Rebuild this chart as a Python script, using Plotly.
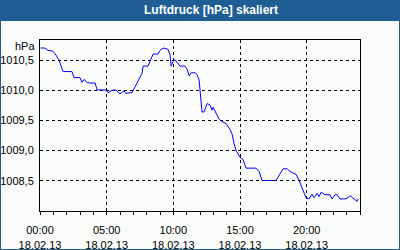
import plotly.graph_objects as go

# ---- data ----
times = ["00:03","00:22","00:36","00:57","01:08","01:25","01:30","01:44","02:24","02:33",
         "03:00","03:09","03:18","03:32","03:45","04:08","04:17","04:57","05:06","05:24",
         "05:42","06:00","06:18","06:27","06:54","07:17","07:39","07:44","08:06","08:29",
         "08:51","09:00","09:14","09:36","09:45","09:50","09:59","10:08","10:21","10:30",
         "10:53","11:02","11:11","11:20","11:38","11:47","11:56","12:00","12:05","12:09",
         "12:18","12:32","12:45","12:54","12:59","13:12","13:26","13:39","13:57","14:15",
         "14:24","14:33","14:42","15:00","15:14","15:27","16:12","16:26","16:39","17:42",
         "18:00","18:14","18:32","18:45","19:03","19:12","19:26","19:44","19:57","20:11",
         "20:24","20:33","20:47","20:56","21:05","21:23","21:45","21:54","22:08","22:17",
         "22:30","22:53","23:06","23:15","23:33","23:47","23:51"]
pressure = [1010.70,1010.70,1010.66,1010.65,1010.605,1010.505,1010.45,1010.31,1010.31,1010.21,
            1010.21,1010.13,1010.18,1010.13,1010.12,1010.12,1010.005,1010.005,1009.96,1010.00,
            1010.005,1009.94,1009.99,1009.95,1009.96,1010.12,1010.28,1010.40,1010.40,1010.60,
            1010.60,1010.66,1010.70,1010.68,1010.59,1010.40,1010.48,1010.505,1010.45,1010.40,
            1010.40,1010.35,1010.24,1010.29,1010.29,1010.255,1010.17,1010.005,1009.87,1009.64,
            1009.64,1009.78,1009.755,1009.67,1009.72,1009.62,1009.52,1009.48,1009.45,1009.35,
            1009.28,1009.12,1009.005,1008.89,1008.85,1008.71,1008.71,1008.655,1008.505,1008.505,
            1008.62,1008.70,1008.70,1008.655,1008.62,1008.61,1008.505,1008.34,1008.22,1008.20,
            1008.28,1008.22,1008.29,1008.24,1008.31,1008.27,1008.27,1008.20,1008.27,1008.27,
            1008.20,1008.20,1008.22,1008.255,1008.20,1008.16,1008.20]
date = "2013-02-18"
x_tickvals = ["2013-02-18 00:00", "2013-02-18 05:00", "2013-02-18 10:00",
              "2013-02-18 15:00", "2013-02-18 20:00"]
x_ticktext = ["00:00<br>18.02.13", "05:00<br>18.02.13", "10:00<br>18.02.13",
              "15:00<br>18.02.13", "20:00<br>18.02.13"]
y_tickvals = [1008.5, 1009.0, 1009.5, 1010.0, 1010.5]
y_ticktext = ["1008,5", "1009,0", "1009,5", "1010,0", "1010,5"]
title_text = "Luftdruck [hPa] skaliert"
unit_text = "hPa"

x = [f"{date} {t}" for t in times]

W, H = 400, 250
L, R, T, B = 40, 40, 40, 39
pw, ph = W - L - R, H - T - B

def px(xp):
    return (xp - L) / pw

def py(yp):
    return (H - B - yp) / ph

BLUE = "#1e5e94"
BG = "#fafcfa"
FONT = "Liberation Sans, Arial, sans-serif"

fig = go.Figure()
fig.add_trace(go.Scatter(x=x, y=pressure, mode="lines",
                         line=dict(color="#0000ff", width=1), hoverinfo="skip"))

fig.update_layout(
    width=W, height=H,
    margin=dict(l=L, r=R, t=T, b=B, pad=0, autoexpand=False),
    paper_bgcolor=BLUE,
    plot_bgcolor=BG,
    showlegend=False,
    font=dict(family=FONT, size=11, color="#000000"),
    xaxis=dict(
        type="date",
        range=[f"{date} 00:00", "2013-02-19 00:00"],
        tickvals=x_tickvals, ticktext=x_ticktext,
        ticks="outside", ticklen=3, tickcolor="#000", tickwidth=1,
        minor=dict(ticks="outside", ticklen=3, tick0=f"{date} 00:00",
                   dtick=3600 * 1000, tickcolor="#000", showgrid=False),
        showgrid=True, gridcolor="#000000", gridwidth=1, griddash="3px,3px",
        showline=True, linecolor="#000000", linewidth=1, mirror=True,
        zeroline=False, fixedrange=True, automargin=False,
        tickfont=dict(family=FONT, size=11, color="#000"),
        ticklabelstandoff=6,
    ),
    yaxis=dict(
        range=[1008.0, 1010.833],
        tickvals=y_tickvals, ticktext=y_ticktext,
        ticks="",
        showgrid=True, gridcolor="#000000", gridwidth=1, griddash="3px,3px",
        showline=True, linecolor="#000000", linewidth=1, mirror=True,
        zeroline=False, fixedrange=True, automargin=False,
        tickfont=dict(family=FONT, size=11, color="#000"),
        ticklabelstandoff=3,
    ),
    shapes=[
        dict(type="rect", xref="paper", yref="paper", layer="below",
             x0=px(1), x1=px(399), y0=py(249), y1=py(21),
             fillcolor=BG, line=dict(width=0)),
    ],
    annotations=[
        dict(text=f"<b>{title_text}</b>", xref="paper", yref="paper",
             x=px(211), y=py(10.5), xanchor="center", yanchor="middle",
             showarrow=False, font=dict(family=FONT, size=12, color="#ffffff")),
        dict(text=unit_text, xref="paper", yref="paper",
             x=px(37), y=py(46), xanchor="right", yanchor="middle",
             showarrow=False, font=dict(family=FONT, size=11, color="#000")),
    ],
)

fig.write_html("out.html", config={"displayModeBar": False})
